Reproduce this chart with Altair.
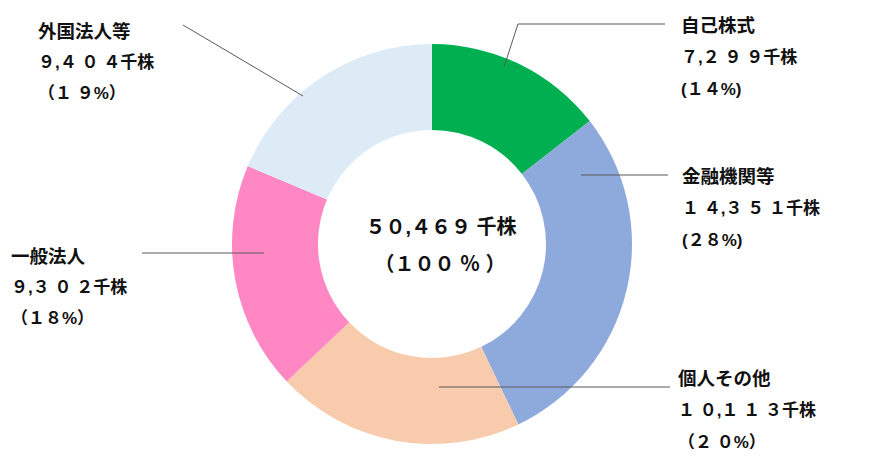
import altair as alt
import pandas as pd

# ---- data ----
categories = ["自己株式", "金融機関等", "個人その他", "一般法人", "外国法人等"]
shares = [7299, 14351, 10113, 9302, 9404]          # 千株
colors = ["#00B050", "#8EA9DB", "#F8CBAD", "#FF88C4", "#DDEBF7"]
paren_full = [False, False, True, True, True]       # parenthesis style in the labels
pct_spaced = [False, False, True, False, True]      # spacing between percent digits
unit = "千株"

total = sum(shares)
FW = str.maketrans("0123456789", "０１２３４５６７８９")
SP = " "


def fw(s):
    return s.translate(FW)


def num_label(v, gap=SP):
    s = f"{v:,}"
    out = ""
    for i, ch in enumerate(s):
        out += fw(ch)
        if gap and i < len(s) - 1 and ch != "," and s[i + 1] != ",":
            out += gap
    return out + unit


def pct_label(v, full, spaced):
    p = (SP if spaced else "").join(fw(str(round(v / total * 100)))) + "%"
    return ("（" + p + "）") if full else ("(" + p + ")")


# ---- layout (plot-area pixels) ----
W, H = 864, 458
OFF = 8
CX, CY = 432 - OFF, 244 - OFF
R_OUT, R_IN = 200, 114
FONT = "Liberation Sans, Noto Sans CJK JP"

# label anchor (left x, title y, line spacing) per category, page pixels
label_x = [681, 682, 678, 11, 38]
label_y = [26, 177, 379, 257, 32]
line_gap = [32, 32, 32, 31, 31]

# leader lines (page pixels), one or more segments per category
leaders = [
    (504, 67, 518, 24), (518, 24, 665, 24),
    (581, 175, 668, 175),
    (439, 387, 670, 387),
    (142, 253, 264, 253),
    (183, 25, 303, 96),
]

# ---- tables ----
df = pd.DataFrame({"cat": categories, "v": shares, "order": list(range(len(categories)))})

titles = pd.DataFrame({
    "x": [x - OFF for x in label_x],
    "y": [y - OFF for y in label_y],
    "text": categories,
})
details = pd.DataFrame({
    "x": [x - OFF for x in label_x] * 2,
    "y": [y - OFF + g for y, g in zip(label_y, line_gap)]
         + [y - OFF + 2 * g for y, g in zip(label_y, line_gap)],
    "text": [num_label(v) for v in shares]
            + [pct_label(v, f, s) for v, f, s in zip(shares, paren_full, pct_spaced)],
})
center = pd.DataFrame({
    "x": [441 - OFF, 440 - OFF],
    "y": [228 - OFF, 265 - OFF],
    "text": [num_label(total, gap="").replace(unit, SP + unit),
             "（" + fw("100") + SP + "％" + SP + "）"],
})
rules = pd.DataFrame(
    [(a - OFF, b - OFF, c - OFF, d - OFF) for a, b, c, d in leaders],
    columns=["x", "y", "x2", "y2"],
)

xs = alt.Scale(domain=[0, W], range=[0, W], nice=False, zero=False)
ys = alt.Scale(domain=[0, H], range=[0, H], nice=False, zero=False)

arc = alt.Chart(df).mark_arc(outerRadius=R_OUT, innerRadius=R_IN, strokeWidth=0).encode(
    theta=alt.Theta("v:Q", stack=True),
    order=alt.Order("order:Q"),
    color=alt.Color("cat:N", scale=alt.Scale(domain=categories, range=colors), legend=None),
    x=alt.value(CX),
    y=alt.value(CY),
)

rule = alt.Chart(rules).mark_rule(color="#595959", strokeWidth=1).encode(
    x=alt.X("x:Q", scale=xs, axis=None),
    y=alt.Y("y:Q", scale=ys, axis=None),
    x2="x2:Q",
    y2="y2:Q",
)

title_t = alt.Chart(titles).mark_text(
    align="left", baseline="middle", font=FONT, fontSize=18.5, fontWeight="bold", color="#111111"
).encode(
    x=alt.X("x:Q", scale=xs, axis=None),
    y=alt.Y("y:Q", scale=ys, axis=None),
    text="text:N",
)

detail_t = alt.Chart(details).mark_text(
    align="left", baseline="middle", font=FONT, fontSize=17, fontWeight="bold", color="#111111"
).encode(
    x=alt.X("x:Q", scale=xs, axis=None),
    y=alt.Y("y:Q", scale=ys, axis=None),
    text="text:N",
)

center_t = alt.Chart(center).mark_text(
    align="center", baseline="middle", font=FONT, fontSize=20, fontWeight="bold", color="#111111"
).encode(
    x=alt.X("x:Q", scale=xs, axis=None),
    y=alt.Y("y:Q", scale=ys, axis=None),
    text="text:N",
)

chart = alt.layer(arc, rule, title_t, detail_t, center_t).properties(
    width=W, height=H, padding=0, autosize="none", background="white"
).configure_view(strokeOpacity=0)

chart.save("out.html", embed_options={"renderer": "svg", "actions": False})
